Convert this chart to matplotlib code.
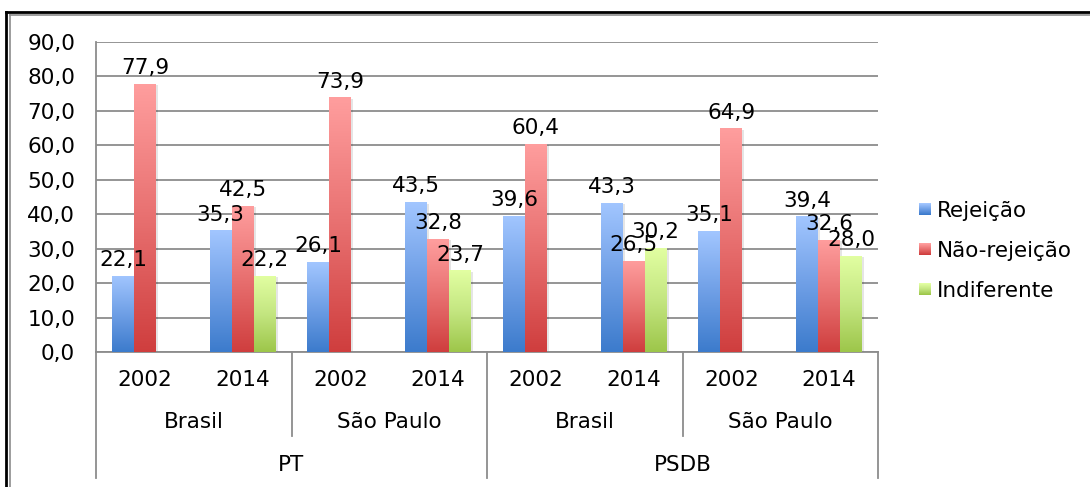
import numpy as np
import matplotlib.pyplot as plt
from matplotlib.colors import LinearSegmentedColormap
from matplotlib.patches import Rectangle
from matplotlib.legend_handler import HandlerBase
from matplotlib.lines import Line2D
from matplotlib import patheffects

years = ["2002", "2014", "2002", "2014", "2002", "2014", "2002", "2014"]
regions = ["Brasil", "São Paulo", "Brasil", "São Paulo"]
parties = ["PT", "PSDB"]

series_names = ["Rejeição", "Não-rejeição", "Indiferente"]
rejeicao = [22.1, 35.3, 26.1, 43.5, 39.6, 43.3, 35.1, 39.4]
nao_rejeicao = [77.9, 42.5, 73.9, 32.8, 60.4, 26.5, 64.9, 32.6]
indiferente = [np.nan, 22.2, np.nan, 23.7, np.nan, 30.2, np.nan, 28.0]

# gradient colours (bottom -> top)
gradients = [
    ["#3c7bcc", "#6f9fe6", "#a2c6ff"],
    ["#cf3e3e", "#e87070", "#ff9e9e"],
    ["#9dc64a", "#c4e681", "#e2ffa2"],
]

plt.rcParams["font.family"] = "DejaVu Sans"
FS = 15.5
GRID = "#8c8c8c"

fig = plt.figure(figsize=(10.9, 4.87), dpi=100)
ax = fig.add_axes([96 / 1090, 1 - 352 / 487, (878 - 96) / 1090, 310 / 487])

x = np.arange(len(years))
width = 0.225
values = [rejeicao, nao_rejeicao, indiferente]
cmaps = [LinearSegmentedColormap.from_list(f"g{i}", c) for i, c in enumerate(gradients)]
grad = np.linspace(0, 1, 256).reshape(-1, 1)

for i, vals in enumerate(values):
    vals = np.array(vals, dtype=float)
    bars = ax.bar(x + (i - 1) * width, np.nan_to_num(vals), width,
                  facecolor="white", edgecolor="none", zorder=2)
    for b, v in zip(bars, vals):
        if np.isnan(v):
            b.set_visible(False)
            continue
        b.set_path_effects([patheffects.SimplePatchShadow(offset=(1.5, -1),
                                                          shadow_rgbFace="#000000",
                                                          alpha=0.1),
                            patheffects.Normal()])
        x0, y0 = b.get_x(), b.get_y()
        im = ax.imshow(grad, cmap=cmaps[i], origin="lower", aspect="auto",
                       extent=[x0, x0 + b.get_width(), y0, y0 + b.get_height()],
                       zorder=3)
        im.set_clip_path(b)
        ax.annotate(f"{v:.1f}".replace(".", ","), (b.get_x() + b.get_width() / 2, v),
                    xytext=(0, 7), textcoords="offset points",
                    ha="center", va="baseline", fontsize=FS, zorder=5)

ax.set_xlim(-0.5, len(years) - 0.5)
ax.set_ylim(0, 90)
ax.set_yticks(np.arange(0, 91, 10))
ax.set_yticklabels([f"{t:.1f}".replace(".", ",") for t in np.arange(0, 91, 10)], fontsize=FS)
ax.tick_params(axis="y", length=0, pad=15)
ax.set_xticks([])
ax.yaxis.grid(True, color=GRID, linewidth=1.3, zorder=0)
ax.set_axisbelow(True)
for s in ["top", "right"]:
    ax.spines[s].set_visible(False)
for s in ["left", "bottom"]:
    ax.spines[s].set_color(GRID)
    ax.spines[s].set_linewidth(1.3)

# multi-level category axis
tr = ax.get_xaxis_transform()
y_year, y_region, y_party = -0.090, -0.226, -0.365
y_bottom, y_mid = -0.406, -0.271
for xi, yr in zip(x, years):
    ax.text(xi, y_year, yr, transform=tr, ha="center", va="center", fontsize=FS)
for j, rg in enumerate(regions):
    ax.text(2 * j + 0.5, y_region, rg, transform=tr, ha="center", va="center", fontsize=FS)
for k, pt in enumerate(parties):
    ax.text(4 * k + 1.5, y_party, pt, transform=tr, ha="center", va="center", fontsize=FS)
for xb in [-0.5, 3.5, 7.5]:
    ax.add_line(Line2D([xb, xb], [0, y_bottom], transform=tr, color=GRID,
                       linewidth=1.3, clip_on=False))
for xb in [1.5, 5.5]:
    ax.add_line(Line2D([xb, xb], [0, y_mid], transform=tr, color=GRID,
                       linewidth=1.3, clip_on=False))


class GradientHandler(HandlerBase):
    def __init__(self, cmap):
        super().__init__()
        self.cmap = cmap

    def create_artists(self, legend, orig_handle, xdescent, ydescent, width, height,
                       fontsize, trans):
        side = min(width, height)
        n = 12
        arts = []
        y0 = -ydescent + (height - side) / 2
        for s in range(n):
            r = Rectangle((-xdescent, y0 + side * s / n), side, side / n + 0.2,
                          facecolor=self.cmap(s / (n - 1)), edgecolor="none",
                          transform=trans)
            arts.append(r)
        return arts


handles = [Rectangle((0, 0), 1, 1) for _ in series_names]
leg = fig.legend(handles, series_names, loc="center left",
                 bbox_to_anchor=(919 / 1090, 1 - 251 / 487), frameon=False,
                 fontsize=FS, handlelength=0.55, handleheight=0.55, handletextpad=0.3,
                 labelspacing=0.93, borderpad=0, borderaxespad=0,
                 handler_map={h: GradientHandler(c) for h, c in zip(handles, cmaps)})

# outer frame (partly cropped in the original)
fig.add_artist(Line2D([6 / 1090, 6 / 1090], [0, 1 - 12 / 487], transform=fig.transFigure,
                      color="black", linewidth=2))
fig.add_artist(Line2D([6 / 1090, 1], [1 - 12 / 487, 1 - 12 / 487], transform=fig.transFigure,
                      color="black", linewidth=2))
fig.add_artist(Line2D([10 / 1090, 10 / 1090], [0, 1 - 14.5 / 487], transform=fig.transFigure,
                      color=GRID, linewidth=1.2))
fig.add_artist(Line2D([10 / 1090, 1], [1 - 14.5 / 487, 1 - 14.5 / 487], transform=fig.transFigure,
                      color=GRID, linewidth=1.2))

fig.savefig("out.png", dpi=100, facecolor="white")
